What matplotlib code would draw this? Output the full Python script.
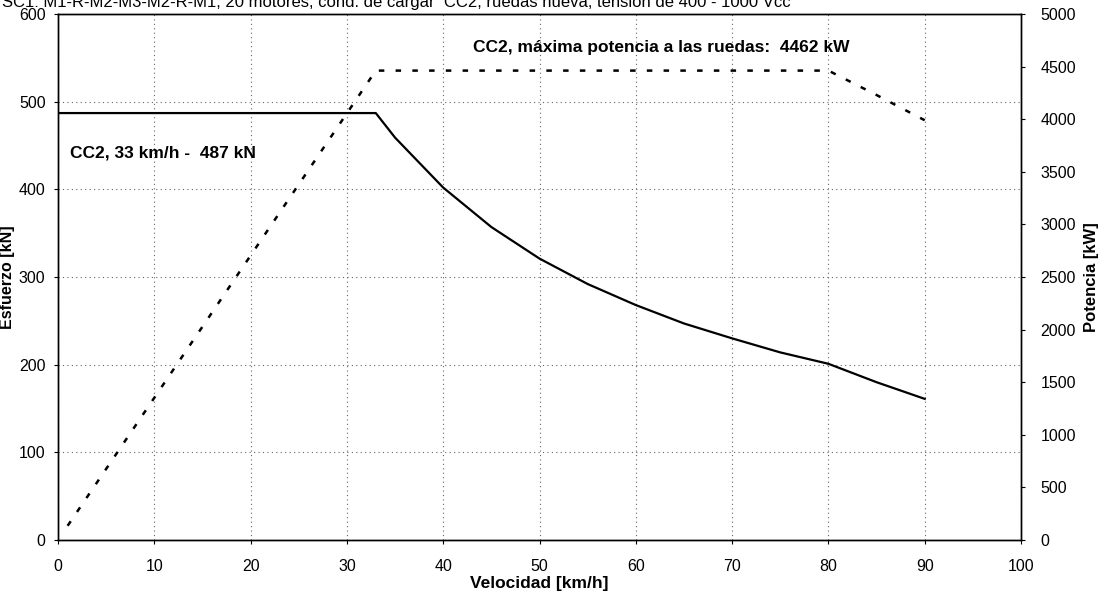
import matplotlib.pyplot as plt

plt.rcParams['font.family'] = ['Liberation Sans', 'DejaVu Sans']

# tractive effort curve [km/h, kN]
vel_force = [0, 33, 35, 40, 45, 50, 55, 60, 65, 70, 75, 80, 85, 90]
force = [487, 487, 459, 402, 357, 321, 292, 268, 247, 230, 214, 201, 180, 161]

# power at the wheels [km/h, kW]
vel_power = [1, 33, 80, 85, 90]
power = [135, 4462, 4462, 4230, 3990]

x_ticks = list(range(0, 101, 10))
y_ticks = list(range(0, 601, 100))
y2_ticks = list(range(0, 5001, 500))

fig, ax = plt.subplots(figsize=(11.02, 5.96), dpi=100)
fig.subplots_adjust(left=58 / 1102, right=1021 / 1102, top=1 - 14 / 596, bottom=1 - 540 / 596)

ax2 = ax.twinx()

ax.plot(vel_force, force, color='black', lw=1.6, zorder=3)
ax2.plot(vel_power, power, color='black', lw=1.8, linestyle=(0, (2.2, 4.5)), zorder=3)

ax.set_xlim(0, 100)
ax.set_ylim(0, 600)
ax2.set_ylim(0, 5000)
ax.set_xticks(x_ticks)
ax.set_yticks(y_ticks)
ax2.set_yticks(y2_ticks)

ax.grid(True, color='#666666', linestyle=(0, (1, 3)), lw=0.8)
for s in list(ax.spines.values()) + list(ax2.spines.values()):
    s.set_linewidth(1.0)

ax.tick_params(axis='y', labelsize=11.5, length=3, pad=6)
ax.tick_params(axis='x', labelsize=11.5, length=3, pad=11)
ax2.tick_params(labelsize=11.5, length=3, pad=11)

ax.set_xlabel('Velocidad [km/h]', fontsize=12.5, fontweight='bold', labelpad=1)
ax.set_ylabel('Esfuerzo [kN]', fontsize=11.5, fontweight='bold')
ax.yaxis.set_label_coords(-0.0445, 0.5)
ax2.set_ylabel('Potencia [kW]', fontsize=12, fontweight='bold')
ax2.yaxis.set_label_coords(1.0654, 0.5)

ax.text(1.25, 441, 'CC2, 33 km/h -  487 kN', fontsize=12.5, fontweight='bold', va='center')
ax.text(43.1, 562, 'CC2, máxima potencia a las ruedas:  4462 kW', fontsize=12.5,
        fontweight='bold', va='center')

fig.text(0.002, 1 - 7 / 596,
         'SC1: M1-R-M2-M3-M2-R-M1, 20 motores, cond. de cargar  CC2, ruedas nueva, tensión de 400 - 1000 Vcc',
         fontsize=12, va='baseline', ha='left')

fig.savefig('out.png', dpi=100)
